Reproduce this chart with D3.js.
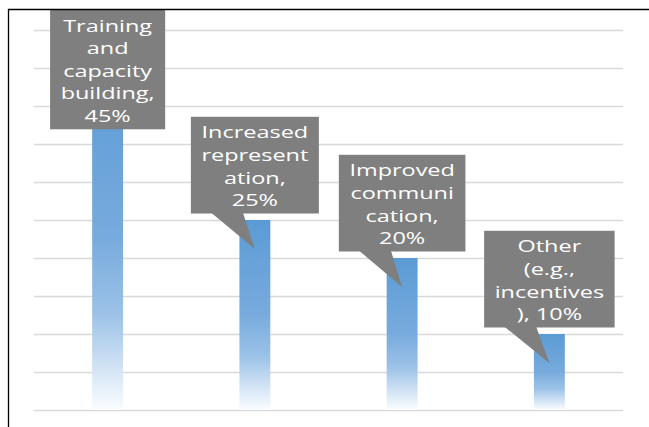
<!DOCTYPE html>
<html>
<head>
<meta charset="utf-8">
<script src="https://cdn.jsdelivr.net/npm/d3@7"></script>
<style>
  html, body { margin: 0; padding: 0; background: #ffffff; }
  svg { display: block; }
</style>
</head>
<body>
<svg id="chart" width="649" height="427"></svg>
<script>
// Share of respondents by suggested measure
const categories = [
  "Training and capacity building",
  "Increased representation",
  "Improved communication",
  "Other (e.g., incentives)"
];
const values = [45, 25, 20, 10];

// Line breaks used inside each callout; the value is appended to the last line
const labelLines = [
  ["Training", "and", "capacity", "building,"],
  ["Increased", "represent", "ation,"],
  ["Improved", "communi", "cation,"],
  ["Other", "(e.g.,", "incentives"]
];
const valuePrefix = ["", "", "", "), "];

const gridTicks = d3.range(0, 50.01, 5);

const W = 649, H = 427;
const plot = { left: 34, right: 623, top: 30, bottom: 410 };

const svg = d3.select("#chart");
svg.append("rect").attr("width", W).attr("height", H).attr("fill", "#ffffff");

const x = d3.scaleBand()
  .domain(categories)
  .range([plot.left, plot.right])
  .paddingInner(0.79)
  .paddingOuter(0.395);

const y = d3.scaleLinear().domain([0, 50]).range([plot.bottom, plot.top]);

// Vertical fade used for every bar
const defs = svg.append("defs");
const grad = defs.append("linearGradient")
  .attr("id", "barFade")
  .attr("x1", 0).attr("y1", 0).attr("x2", 0).attr("y2", 1);
[
  [0, "#5b9bd5"],
  [0.5, "#78abdd"],
  [0.72, "#9cc2e7"],
  [0.88, "#d3e4f5"],
  [1, "#fbfdff"]
].forEach(([o, c]) => grad.append("stop").attr("offset", o).attr("stop-color", c));

// Horizontal gridlines
svg.append("g")
  .selectAll("line")
  .data(gridTicks)
  .join("line")
  .attr("x1", plot.left).attr("x2", plot.right)
  .attr("y1", d => Math.round(y(d)) + 0.5).attr("y2", d => Math.round(y(d)) + 0.5)
  .attr("stroke", "#d9d9d9")
  .attr("stroke-width", 1.6);

// Bars
svg.append("g")
  .selectAll("rect")
  .data(values)
  .join("rect")
  .attr("x", (d, i) => x(categories[i]))
  .attr("width", x.bandwidth())
  .attr("y", d => y(d))
  .attr("height", d => y(0) - y(d))
  .attr("fill", "url(#barFade)");

// Callouts
const fontSize = 17;
const stretch = 1.38;
const lineGap = 22.6;
const padTop = 21.6, padBottom = 7.3, padSide = 10.5;
const boxFill = "#7f7f7f";

const measure = svg.append("text")
  .attr("font-family", "'Open Sans', sans-serif")
  .attr("font-size", fontSize)
  .attr("visibility", "hidden");

const callouts = svg.append("g");

values.forEach((v, i) => {
  const lines = labelLines[i].concat([valuePrefix[i] + v + "%"]);
  let maxW = 0;
  lines.forEach(t => {
    measure.text(t);
    maxW = Math.max(maxW, measure.node().getComputedTextLength() * stretch);
  });
  const boxW = maxW + padSide * 2;
  const boxH = padTop + (lines.length - 1) * lineGap + padBottom;
  const cx = x(categories[i]) + x.bandwidth() / 2;
  const barTop = y(v);
  let bottom = barTop - 6.5;
  let top = bottom - boxH;
  if (top < 10) { top = 10; bottom = top + boxH; }
  const left = cx - boxW / 2;

  const g = callouts.append("g");
  const tipY = barTop + 29;
  if (tipY > bottom) {
    g.append("path")
      .attr("d", d3.line()([[left + 20, bottom - 1], [left + 52, bottom - 1], [cx, tipY]]) + "Z")
      .attr("fill", boxFill);
  }
  g.append("rect")
    .attr("x", left).attr("y", top)
    .attr("width", boxW).attr("height", boxH)
    .attr("fill", boxFill);

  lines.forEach((t, k) => {
    g.append("text")
      .attr("transform", `translate(${cx},${top + padTop + k * lineGap}) scale(${stretch},1)`)
      .attr("text-anchor", "middle")
      .attr("font-family", "'Open Sans', sans-serif")
      .attr("font-size", fontSize)
      .attr("fill", "#ffffff")
      .text(t);
  });
});
measure.remove();

// Frame edges
svg.append("line")
  .attr("x1", 8).attr("x2", W).attr("y1", 9.5).attr("y2", 9.5)
  .attr("stroke", "#000000").attr("stroke-width", 1.3);
svg.append("line")
  .attr("x1", 8.5).attr("x2", 8.5).attr("y1", 9).attr("y2", H)
  .attr("stroke", "#000000").attr("stroke-width", 1.3);
</script>
</body>
</html>
